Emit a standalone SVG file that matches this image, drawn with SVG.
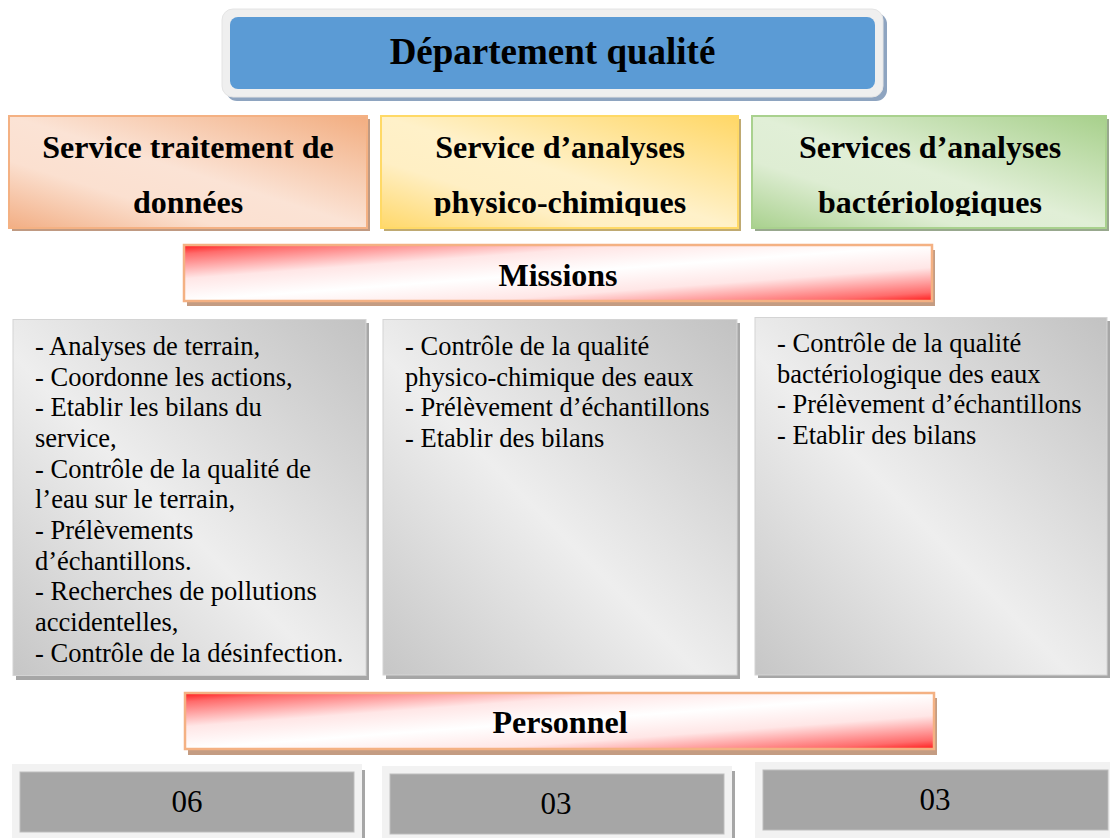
<svg xmlns="http://www.w3.org/2000/svg" width="1110" height="838" viewBox="0 0 1110 838">
  <defs>
    <!-- diagonal fills, dark corners top-right / bottom-left, light band in the middle -->
    <linearGradient id="gOrange" x1="1" y1="0" x2="0" y2="1">
      <stop offset="0" stop-color="#f2ad80"/>
      <stop offset="0.5" stop-color="#fbe3d5"/>
      <stop offset="0.7" stop-color="#fbe0d0"/>
      <stop offset="1" stop-color="#f2ae84"/>
    </linearGradient>
    <linearGradient id="gYellow" x1="1" y1="0" x2="0" y2="1">
      <stop offset="0" stop-color="#ffd766"/>
      <stop offset="0.5" stop-color="#fff1c9"/>
      <stop offset="0.7" stop-color="#ffefc4"/>
      <stop offset="1" stop-color="#ffd86a"/>
    </linearGradient>
    <linearGradient id="gGreen" x1="1" y1="0" x2="0" y2="1">
      <stop offset="0" stop-color="#a7d08b"/>
      <stop offset="0.5" stop-color="#e1efd7"/>
      <stop offset="0.7" stop-color="#deedd3"/>
      <stop offset="1" stop-color="#a9d18e"/>
    </linearGradient>
    <linearGradient id="gGrey" x1="1" y1="0" x2="0" y2="1">
      <stop offset="0" stop-color="#c2c2c2"/>
      <stop offset="0.55" stop-color="#eeeeee"/>
      <stop offset="1" stop-color="#c6c6c6"/>
    </linearGradient>
    <!-- red banner: red corners top-left and bottom-right, white across the middle -->
    <linearGradient id="gRed" x1="0" y1="0" x2="1" y2="1">
      <stop offset="0" stop-color="#ff1a1a"/>
      <stop offset="0.08" stop-color="#ff6b6b"/>
      <stop offset="0.3" stop-color="#ffe6e6"/>
      <stop offset="0.5" stop-color="#ffffff"/>
      <stop offset="0.7" stop-color="#ffe6e6"/>
      <stop offset="0.92" stop-color="#ff6b6b"/>
      <stop offset="1" stop-color="#ff1a1a"/>
    </linearGradient>
    <clipPath id="clipSvc">
      <rect x="0" y="116" width="1110" height="100"/>
    </clipPath>
  </defs>
  <style>
    .title { font-family: "Liberation Serif", "Times New Roman", serif; font-weight: bold; fill: #000; text-anchor: middle; }
    .body { font-family: "Liberation Serif", "Times New Roman", serif; font-size: 26.5px; fill: #000; }
    .count { font-family: "Liberation Serif", "Times New Roman", serif; font-size: 31px; fill: #000; text-anchor: middle; }
    .banner { fill: url(#gRed); stroke: #f4b183; stroke-width: 2.5; }
    .bannerShadow { fill: #c49c82; }
    .panel { fill: url(#gGrey); stroke: #d4d4d4; stroke-width: 1; }
    .panelShadow { fill: #a6a6a6; }
    .frame { fill: #f2f2f2; }
    .cell { fill: #a6a6a6; stroke: #bdbdbd; stroke-width: 1; }
  </style>

  <rect width="1110" height="838" fill="#ffffff"/>

  <!-- top box -->
  <g id="departement">
    <rect x="226" y="13" width="661" height="88" rx="11" fill="#8ea4c0"/>
    <rect x="222" y="9" width="661" height="88" rx="11" fill="#efefef" stroke="#e4e4e4" stroke-width="1"/>
    <rect x="230" y="17" width="645" height="72" rx="8" fill="#5b9bd5"/>
    <text class="title" x="552.5" y="64" font-size="37">Département qualité</text>
  </g>

  <!-- three services -->
  <g id="service-donnees">
    <rect x="12" y="119" width="358" height="112" fill="#c09a82"/>
    <rect x="9" y="116" width="358" height="112" fill="url(#gOrange)" stroke="#f4b183" stroke-width="2"/>
    <g clip-path="url(#clipSvc)">
      <text class="title" x="188" y="158" font-size="32">Service traitement de</text>
      <text class="title" x="188" y="212.5" font-size="32">données</text>
    </g>
  </g>
  <g id="service-physico-chimique">
    <rect x="384" y="119" width="357" height="112" fill="#bfaa72"/>
    <rect x="381" y="116" width="357" height="112" fill="url(#gYellow)" stroke="#ffd966" stroke-width="2"/>
    <g clip-path="url(#clipSvc)">
      <text class="title" x="560" y="158" font-size="32">Service d’analyses</text>
      <text class="title" x="560" y="212.5" font-size="32">physico-chimiques</text>
    </g>
  </g>
  <g id="service-bacteriologique">
    <rect x="755" y="119" width="354" height="112" fill="#98a88e"/>
    <rect x="752" y="116" width="354" height="112" fill="url(#gGreen)" stroke="#a9d18e" stroke-width="2"/>
    <g clip-path="url(#clipSvc)">
      <text class="title" x="930" y="158" font-size="32">Services d’analyses</text>
      <text class="title" x="930" y="212.5" font-size="32">bactériologiques</text>
    </g>
  </g>

  <!-- missions banner -->
  <g id="missions">
    <rect class="bannerShadow" x="187" y="250" width="748" height="56"/>
    <rect class="banner" x="184" y="245" width="748" height="56"/>
    <text class="title" x="558" y="286" font-size="32">Missions</text>
  </g>

  <!-- mission panels -->
  <g id="missions-donnees">
    <rect class="panelShadow" x="16" y="323" width="353" height="357"/>
    <rect class="panel" x="13" y="319.5" width="353" height="356"/>
    <text class="body" x="35" y="355">
      <tspan x="35" dy="0">- Analyses de terrain,</tspan>
      <tspan x="35" dy="30.67">- Coordonne les actions,</tspan>
      <tspan x="35" dy="30.67">- Etablir les bilans du</tspan>
      <tspan x="35" dy="30.67">service,</tspan>
      <tspan x="35" dy="30.67">- Contrôle de la qualité de</tspan>
      <tspan x="35" dy="30.67">l’eau sur le terrain,</tspan>
      <tspan x="35" dy="30.67">- Prélèvements</tspan>
      <tspan x="35" dy="30.67">d’échantillons.</tspan>
      <tspan x="35" dy="30.67">- Recherches de pollutions</tspan>
      <tspan x="35" dy="30.67">accidentelles,</tspan>
      <tspan x="35" dy="30.67">- Contrôle de la désinfection.</tspan>
    </text>
  </g>
  <g id="missions-physico-chimique">
    <rect class="panelShadow" x="386" y="323" width="354" height="356"/>
    <rect class="panel" x="383" y="319.5" width="354" height="355.5"/>
    <text class="body" x="405" y="355">
      <tspan x="405" dy="0">- Contrôle de la qualité</tspan>
      <tspan x="405" dy="30.67">physico-chimique des eaux</tspan>
      <tspan x="405" dy="30.67">- Prélèvement d’échantillons</tspan>
      <tspan x="405" dy="30.67">- Etablir des bilans</tspan>
    </text>
  </g>
  <g id="missions-bacteriologique">
    <rect class="panelShadow" x="758" y="321" width="352" height="357"/>
    <rect class="panel" x="755" y="317.5" width="352" height="357.5"/>
    <text class="body" x="777" y="352">
      <tspan x="777" dy="0">- Contrôle de la qualité</tspan>
      <tspan x="777" dy="30.67">bactériologique des eaux</tspan>
      <tspan x="777" dy="30.67">- Prélèvement d’échantillons</tspan>
      <tspan x="777" dy="30.67">- Etablir des bilans</tspan>
    </text>
  </g>

  <!-- personnel banner -->
  <g id="personnel">
    <rect class="bannerShadow" x="188" y="698" width="749" height="57"/>
    <rect class="banner" x="185" y="693" width="749" height="56"/>
    <text class="title" x="560" y="733" font-size="32">Personnel</text>
  </g>

  <!-- staff counts -->
  <g id="effectif-donnees">
    <rect x="362" y="770" width="3" height="68" fill="#a6a6a6"/>
    <rect class="frame" x="12" y="764" width="350" height="76"/>
    <rect class="cell" x="20" y="772" width="334" height="60"/>
    <text class="count" x="187" y="812">06</text>
  </g>
  <g id="effectif-physico-chimique">
    <rect x="732" y="771" width="3" height="67" fill="#a6a6a6"/>
    <rect class="frame" x="382" y="766" width="350" height="74"/>
    <rect class="cell" x="390" y="774" width="334" height="60"/>
    <text class="count" x="556" y="814">03</text>
  </g>
  <g id="effectif-bacteriologique">
    <rect class="frame" x="755" y="762" width="360" height="76"/>
    <rect class="cell" x="763" y="770" width="345" height="60"/>
    <text class="count" x="935" y="810">03</text>
  </g>

  <!-- the chart has no connecting lines -->
  <g id="connectors"/>
</svg>
